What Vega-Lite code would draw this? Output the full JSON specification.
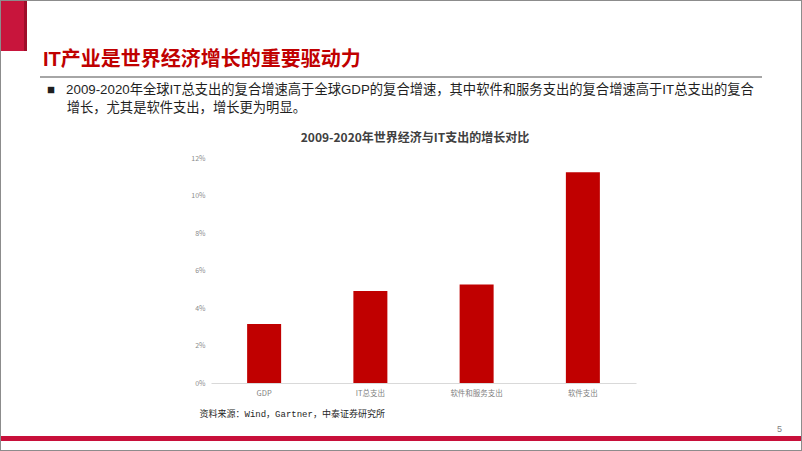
{
  "$schema": "https://vega.github.io/schema/vega-lite/v6.json",
  "background": "white",
  "padding": 0,
  "spacing": 0,
  "bounds": "flush",
  "config": {
    "view": {"stroke": null},
    "concat": {"spacing": 0},
    "font": "Liberation Sans, Noto Sans CJK SC"
  },
  "datasets": {
    "rates": [
      {"category": "GDP", "cagr": 0.0315},
      {"category": "IT总支出", "cagr": 0.0491},
      {"category": "软件和服务支出", "cagr": 0.0526},
      {"category": "软件支出", "cagr": 0.1124}
    ],
    "none": []
  },
  "vconcat": [
    {"width": 802, "height": 1, "data": {"name": "none"}, "mark": "rect", "view": {"fill": "#8c8c8c", "stroke": null}},
    {
      "width": 802, "height": 50, "data": {"name": "none"}, "mark": "rect",
      "view": {"stroke": null, "fill": {"gradient": "linear", "x1": 0, "y1": 0, "x2": 1, "y2": 0, "stops": [
        {"offset": 0, "color": "#8c8c8c"}, {"offset": 0.00125, "color": "#8c8c8c"},
        {"offset": 0.00125, "color": "#C8153C"}, {"offset": 0.0299, "color": "#C8153C"},
        {"offset": 0.0299, "color": "#9E0E2A"}, {"offset": 0.0337, "color": "#9E0E2A"},
        {"offset": 0.0337, "color": "rgba(255,255,255,0)"}, {"offset": 0.99875, "color": "rgba(255,255,255,0)"},
        {"offset": 0.99875, "color": "#8c8c8c"}, {"offset": 1, "color": "#8c8c8c"}]}}
    },
    {
      "width": 802, "height": 25, "data": {"name": "none"}, "mark": "rect",
      "view": {"stroke": null, "fill": {"gradient": "linear", "x1": 0, "y1": 0, "x2": 1, "y2": 0, "stops": [
        {"offset": 0, "color": "#8c8c8c"}, {"offset": 0.00125, "color": "#8c8c8c"},
        {"offset": 0.00125, "color": "rgba(255,255,255,0)"}, {"offset": 0.99875, "color": "rgba(255,255,255,0)"},
        {"offset": 0.99875, "color": "#8c8c8c"}, {"offset": 1, "color": "#8c8c8c"}]}},
      "title": {
        "text": "IT产业是世界经济增长的重要驱动力",
        "anchor": "start", "orient": "top", "offset": 0, "dx": 43, "dy": 19,
        "fontSize": 20, "fontWeight": "bold", "color": "#C00000",
        "font": "Liberation Sans, Noto Sans CJK SC"
      }
    },
    {
      "width": 802, "height": 2, "data": {"name": "none"}, "mark": "rect",
      "view": {"stroke": null, "fill": {"gradient": "linear", "x1": 0, "y1": 0, "x2": 1, "y2": 0, "stops": [
        {"offset": 0, "color": "#8c8c8c"}, {"offset": 0.00125, "color": "#8c8c8c"},
        {"offset": 0.00125, "color": "rgba(255,255,255,0)"}, {"offset": 0.0499, "color": "rgba(255,255,255,0)"},
        {"offset": 0.0499, "color": "#A6A6A6"}, {"offset": 0.9501, "color": "#A6A6A6"},
        {"offset": 0.9501, "color": "rgba(255,255,255,0)"}, {"offset": 0.99875, "color": "rgba(255,255,255,0)"},
        {"offset": 0.99875, "color": "#8c8c8c"}, {"offset": 1, "color": "#8c8c8c"}]}}
    },
    {
      "width": 802, "height": 80, "data": {"name": "none"}, "mark": "rect",
      "view": {"stroke": null, "fill": {"gradient": "linear", "x1": 0, "y1": 0, "x2": 1, "y2": 0, "stops": [
        {"offset": 0, "color": "#8c8c8c"}, {"offset": 0.00125, "color": "#8c8c8c"},
        {"offset": 0.00125, "color": "rgba(255,255,255,0)"}, {"offset": 0.99875, "color": "rgba(255,255,255,0)"},
        {"offset": 0.99875, "color": "#8c8c8c"}, {"offset": 1, "color": "#8c8c8c"}]}},
      "title": {
        "text": [
          "■\u00a0\u00a0\u00a02009-2020年全球IT总支出的复合增速高于全球GDP的复合增速，其中软件和服务支出的复合增速高于IT总支出的复合",
          "\u200b\u3000\u00a0\u2009增长，尤其是软件支出，增长更为明显。"
        ],
        "anchor": "start", "orient": "top", "offset": 0, "dx": 47, "dy": 36,
        "fontSize": 13.3, "lineHeight": 18, "fontWeight": "normal", "color": "#1f1f1f",
        "font": "Liberation Sans, Noto Sans CJK SC"
      }
    },
    {
      "width": 802,
      "height": 225,
      "data": {"name": "rates"},
      "view": {"stroke": null, "fill": {"gradient": "linear", "x1": 0, "y1": 0, "x2": 1, "y2": 0, "stops": [
        {"offset": 0, "color": "#8c8c8c"}, {"offset": 0.00125, "color": "#8c8c8c"},
        {"offset": 0.00125, "color": "rgba(255,255,255,0)"}, {"offset": 0.99875, "color": "rgba(255,255,255,0)"},
        {"offset": 0.99875, "color": "#8c8c8c"}, {"offset": 1, "color": "#8c8c8c"}]}},
      "title": {
        "text": "2009-2020年世界经济与IT支出的增长对比",
        "anchor": "middle", "offset": 9, "dx": 14,
        "fontSize": 12, "fontWeight": "bold", "color": "#404040",
        "font": "Noto Sans CJK SC"
      },
      "mark": {"type": "bar", "color": "#C00000"},
      "encoding": {
        "x": {
          "field": "category", "type": "nominal", "sort": null,
          "scale": {"range": [211, 636], "paddingInner": 0.68, "paddingOuter": 0.34},
          "axis": {
            "labelAngle": 0, "ticks": false, "domain": true, "domainColor": "#d9d9d9",
            "labelFontSize": 7.5, "labelColor": "#7f7f7f", "labelPadding": 6,
            "labelFont": "Noto Sans CJK SC",
            "title": "资料来源：Wind，Gartner，中泰证券研究所",
            "titleFont": "Liberation Mono, Noto Sans CJK SC",
            "titleFontSize": 9, "titleFontWeight": "normal", "titleColor": "#262626",
            "titleAlign": "left", "titleBaseline": "middle", "titleAnchor": "start",
            "titleX": 199, "titleY": 30
          }
        },
        "y": {
          "field": "cagr", "type": "quantitative",
          "scale": {"domain": [0, 0.12]},
          "axis": {
            "offset": -211,
            "values": [0, 0.02, 0.04, 0.06, 0.08, 0.1, 0.12],
            "format": ".0%", "domain": false, "ticks": false, "grid": false,
            "labelFontSize": 7, "labelColor": "#8c8c8c", "labelPadding": 6,
            "labelFont": "Noto Sans CJK SC", "title": null
          }
        }
      }
    },
    {
      "width": 802, "height": 53, "data": {"name": "none"}, "mark": "rect",
      "view": {"stroke": null, "fill": {"gradient": "linear", "x1": 0, "y1": 0, "x2": 1, "y2": 0, "stops": [
        {"offset": 0, "color": "#8c8c8c"}, {"offset": 0.00125, "color": "#8c8c8c"},
        {"offset": 0.00125, "color": "rgba(255,255,255,0)"}, {"offset": 0.99875, "color": "rgba(255,255,255,0)"},
        {"offset": 0.99875, "color": "#8c8c8c"}, {"offset": 1, "color": "#8c8c8c"}]}}
    },
    {
      "width": 802, "height": 5, "data": {"name": "none"}, "mark": "rect",
      "view": {"stroke": null, "fill": {"gradient": "linear", "x1": 0, "y1": 0, "x2": 1, "y2": 0, "stops": [
        {"offset": 0, "color": "#8c8c8c"}, {"offset": 0.00125, "color": "#8c8c8c"},
        {"offset": 0.00125, "color": "#C8103A"}, {"offset": 0.99875, "color": "#C8103A"},
        {"offset": 0.99875, "color": "#8c8c8c"}, {"offset": 1, "color": "#8c8c8c"}]}},
      "title": {
        "text": "5", "anchor": "start", "orient": "top", "offset": 2, "dx": 777,
        "fontSize": 9, "fontWeight": "normal", "color": "#7f7f7f",
        "font": "Liberation Sans"
      }
    },
    {
      "width": 802, "height": 9, "data": {"name": "none"}, "mark": "rect",
      "view": {"stroke": null, "fill": {"gradient": "linear", "x1": 0, "y1": 0, "x2": 1, "y2": 0, "stops": [
        {"offset": 0, "color": "#8c8c8c"}, {"offset": 0.00125, "color": "#8c8c8c"},
        {"offset": 0.00125, "color": "rgba(255,255,255,0)"}, {"offset": 0.99875, "color": "rgba(255,255,255,0)"},
        {"offset": 0.99875, "color": "#8c8c8c"}, {"offset": 1, "color": "#8c8c8c"}]}}
    },
    {"width": 802, "height": 1, "data": {"name": "none"}, "mark": "rect", "view": {"fill": "#8c8c8c", "stroke": null}}
  ]
}
